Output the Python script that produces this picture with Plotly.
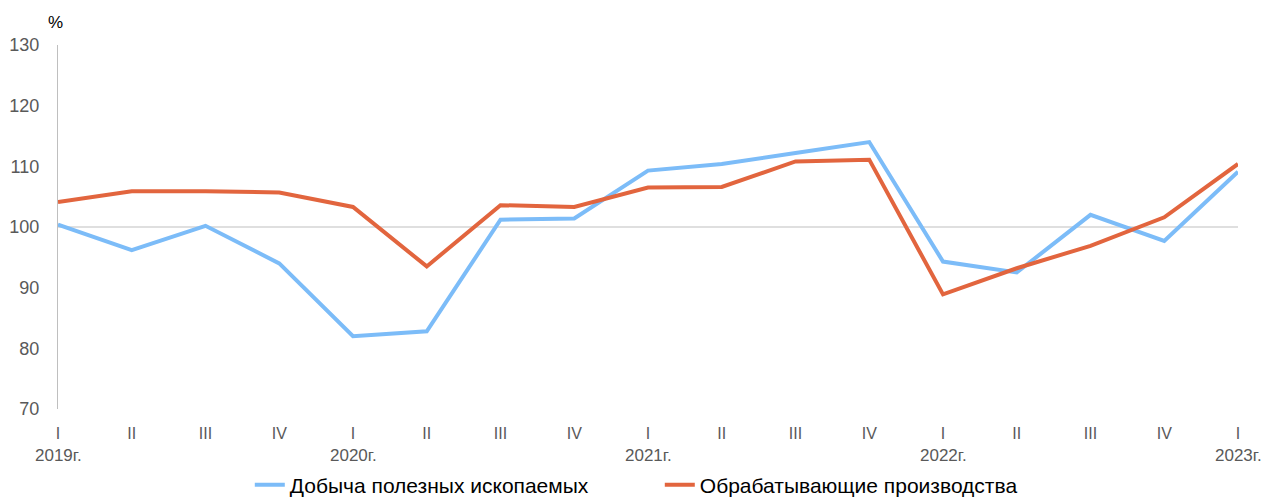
import plotly.graph_objects as go

quarters = ["I", "II", "III", "IV", "I", "II", "III", "IV", "I", "II", "III", "IV",
            "I", "II", "III", "IV", "I"]
years = ["2019г.", "", "", "", "2020г.", "", "", "", "2021г.", "", "", "",
         "2022г.", "", "", "", "2023г."]
mining = [100.4, 96.2, 100.2, 94.0, 82.0, 82.8, 101.2, 101.4, 109.3, 110.4, 112.2, 114.0,
          94.3, 92.5, 102.0, 97.7, 109.1]
manufacturing = [104.1, 105.9, 105.9, 105.7, 103.3, 93.5, 103.6, 103.3, 106.5, 106.6, 110.8, 111.1,
                 88.9, 93.2, 96.9, 101.6, 110.4]
name_mining = "Добыча полезных ископаемых"
name_manuf = "Обрабатывающие производства"

xs = list(range(len(quarters)))

FONT = "Liberation Sans, Arial, sans-serif"

fig = go.Figure()
fig.add_trace(go.Scatter(x=xs, y=mining, mode="lines", name=name_mining,
                         line=dict(color="#7CBCF8", width=4), cliponaxis=False))
fig.add_trace(go.Scatter(x=xs, y=manufacturing, mode="lines", name=name_manuf,
                         line=dict(color="#E2653E", width=4), cliponaxis=False))

fig.add_shape(type="line", xref="paper", x0=0, x1=1, yref="y", y0=100, y1=100,
              line=dict(color="#BFBFBF", width=1.2), layer="below")

# year labels under the quarter labels
for xi, yr in zip(xs, years):
    if yr:
        fig.add_annotation(text=yr, xref="x", x=xi, xanchor="center",
                           yref="paper", y=0, yanchor="top", yshift=-35,
                           showarrow=False,
                           font=dict(family=FONT, size=17, color="#595959"))

fig.add_annotation(text="%", xref="paper", x=0, xanchor="center", xshift=-3,
                   yref="paper", y=1, yanchor="bottom", yshift=11, showarrow=False,
                   font=dict(family=FONT, size=17, color="#000000"))

fig.update_layout(
    width=1266, height=497,
    margin=dict(l=58, r=28, t=45, b=88, autoexpand=False),
    paper_bgcolor="white", plot_bgcolor="white",
    font=dict(family=FONT, color="#595959"),
    showlegend=True,
    legend=dict(orientation="h", x=0.51, xanchor="center", xref="paper",
                y=12 / 497, yref="container", yanchor="middle",
                entrywidth=365, entrywidthmode="pixels",
                font=dict(size=21, color="#000000"), tracegroupgap=0),
    xaxis=dict(range=[0, 16], tickvals=xs, ticktext=quarters, showgrid=False,
               zeroline=False, showline=False, ticks="outside", ticklen=10,
               tickcolor="rgba(0,0,0,0)", automargin=False,
               tickfont=dict(size=16, color="#595959")),
    yaxis=dict(range=[70, 130], dtick=10, showgrid=False, zeroline=False,
               showline=True, linecolor="#BFBFBF", linewidth=1.2,
               ticks="outside", ticklen=14, tickcolor="rgba(0,0,0,0)", automargin=False,
               tickfont=dict(size=18, color="#595959")),
)

fig.write_html("out.html", config={"displayModeBar": False},
               post_script="document.body.style.margin='0';")
